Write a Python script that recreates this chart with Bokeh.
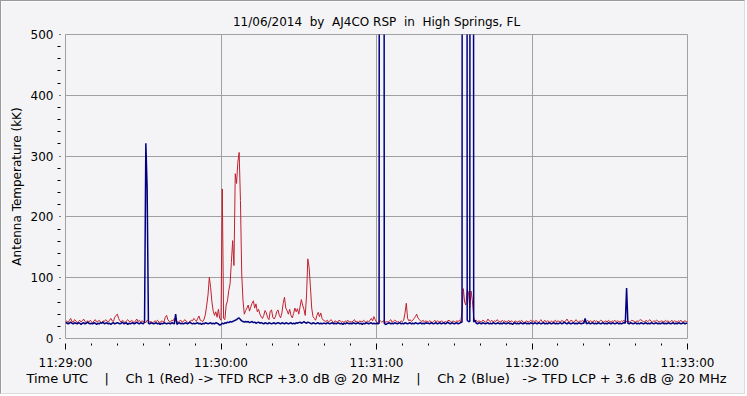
import numpy as np
from bokeh.plotting import figure
from bokeh.models import FixedTicker, Range1d, ColumnDataSource
from bokeh.embed import file_html
from bokeh.resources import INLINE

# ---- data (antenna temperature, kK), one sample every 0.5 s from 11:29:00 UTC ----
sample_step_s = 0.5

red_values = [
    27,29,26,30,33,28,27,31,29,26,28,30,27,29,32,28,26,29,27,30,
    28,26,29,31,27,28,30,27,26,29,28,31,29,27,30,33,29,28,35,38,
    40,33,29,27,30,28,26,29,31,28,27,30,28,26,29,32,28,30,27,29,
    28,27,26,30,29,27,28,26,27,29,28,30,27,26,29,28,27,35,38,31,
    28,27,30,29,33,31,28,26,29,30,27,28,31,29,27,26,28,30,29,33,
    31,28,33,37,30,29,28,32,40,55,72,101,84,60,45,38,44,35,48,33,
    30,246,33,31,55,62,79,90,125,161,120,271,255,290,306,227,106,62,40,46,
    50,55,45,52,58,62,50,57,44,48,40,36,33,38,46,42,34,31,45,47,
    35,32,36,44,47,38,34,42,58,68,50,46,40,48,38,34,41,50,44,49,
    40,52,64,55,48,38,70,131,117,85,50,36,33,30,38,43,36,42,33,30,
    29,28,30,27,29,31,28,26,29,28,27,30,29,27,28,26,29,28,30,27,
    28,27,29,31,27,28,26,29,28,27,30,28,26,29,27,30,33,29,36,31,
    27,26,28,29,27,28,30,26,28,27,29,31,27,28,30,29,27,28,26,29,
    28,30,42,58,33,29,31,28,30,33,36,40,34,31,29,28,30,27,29,28,
    27,29,28,26,28,30,27,29,28,27,29,28,26,28,27,29,30,28,27,29,
    28,27,29,28,30,27,45,82,60,55,80,76,50,78,62,35,28,30,27,29,
    28,27,30,29,27,28,32,29,28,30,27,29,28,31,29,28,27,30,28,29,
    27,28,30,27,29,28,26,29,28,27,29,28,30,27,26,28,29,27,28,30,
    28,29,27,30,28,26,29,31,27,28,30,27,29,28,26,29,27,28,30,27,
    29,28,27,30,28,27,29,32,28,27,30,29,27,28,31,28,27,29,28,30,
    27,29,28,30,27,29,28,27,30,28,29,27,28,30,29,27,28,29,27,30,
    28,27,29,28,30,27,29,28,27,29,28,30,27,28,29,27,28,30,29,28,
    27,29,28,30,31,29,28,27,30,28,29,31,28,27,29,28,30,29,27,28,
    29,28,27,30,28,29,27,28,30,27,29,28,27,29,28,30,27,28,29,28,
    28,
]

blue_values = [
    25,26,24,25,27,25,24,26,25,24,26,25,23,25,26,24,25,27,25,24,
    25,24,26,25,23,25,24,26,25,27,24,25,26,24,25,23,25,26,24,25,
    26,25,24,25,27,24,25,26,23,25,24,25,26,24,25,27,25,24,26,25,
    24,27,321,247,25,24,26,25,24,25,26,24,25,23,25,24,26,25,24,25,
    25,24,26,25,24,40,23,25,26,24,25,24,25,26,24,25,27,25,24,25,
    24,25,26,24,25,23,25,24,26,25,24,25,26,24,25,24,26,25,24,22,
    23,25,24,26,25,27,26,28,27,28,29,30,31,33,34,31,29,28,27,28,
    27,28,26,27,28,26,27,25,26,27,25,26,25,24,26,25,24,26,25,24,
    25,26,24,25,26,25,24,26,25,24,26,25,24,25,26,24,25,24,26,25,
    26,27,25,26,28,26,25,27,26,25,24,26,25,24,25,26,24,25,24,25,
    25,24,26,25,24,25,26,24,25,24,26,25,24,25,23,25,24,26,25,24,
    25,24,26,25,24,25,26,24,25,23,25,24,26,25,24,25,26,24,25,24,
    25,24,25,5000,5000,5000,25,23,24,25,26,24,25,24,26,25,24,25,26,24,
    25,24,26,25,24,25,26,24,25,24,26,25,24,25,26,24,25,24,26,25,
    25,24,26,25,24,25,26,24,25,26,24,25,26,24,25,27,25,24,26,25,
    24,25,26,24,25,26,27,5000,5000,5000,30,28,28,5000,5000,27,30,25,24,26,
    25,24,26,25,24,25,26,24,25,24,26,25,24,25,26,24,25,24,26,25,
    24,25,26,24,25,23,25,26,24,25,24,26,25,24,25,26,24,25,24,26,
    25,24,26,25,24,26,25,24,25,26,24,25,24,26,25,24,25,26,24,25,
    24,25,26,24,25,27,25,24,26,25,24,25,26,24,25,24,26,25,24,25,
    25,33,24,25,26,24,25,26,24,25,24,26,25,24,25,26,24,25,24,26,
    25,24,26,25,24,25,26,24,25,24,25,26,25,83,25,24,26,25,24,25,
    26,24,25,24,26,25,24,25,26,24,25,24,26,25,24,25,26,24,25,24,
    25,26,24,25,24,26,25,24,25,26,24,25,24,26,25,24,25,26,24,25,
    25,
]

x_major_ticks = [0, 60, 120, 180, 240]
x_tick_labels = ["11:29:00", "11:30:00", "11:31:00", "11:32:00", "11:33:00"]
y_major_ticks = [0, 100, 200, 300, 400, 500]

title_text = "11/06/2014\u00a0 by\u00a0 AJ4CO RSP\u00a0 in\u00a0 High Springs, FL"
x_label = ("Time UTC\u00a0\u00a0\u00a0 |\u00a0\u00a0\u00a0 Ch 1 (Red) -> TFD RCP +3.0 dB @ 20 MHz"
           "\u00a0\u00a0\u00a0 |\u00a0\u00a0\u00a0 Ch 2 (Blue)\u00a0\u00a0 -> TFD LCP + 3.6 dB @ 20 MHz")
y_label = "Antenna Temperature (kK)"

# ---- build ----
t = np.arange(len(red_values)) * sample_step_s
src = ColumnDataSource(dict(t=t, red=red_values, blue=blue_values))

BG = "#F4F4F6"
GRID = "#A0A0A0"
FONT = "DejaVu Sans"

p = figure(width=745, height=394, output_backend="svg", toolbar_location=None,
           x_range=Range1d(0, 240), y_range=Range1d(0, 500), title=title_text,
           min_border_left=64, min_border_right=59, min_border_top=33, min_border_bottom=57,
           styles={"border-top": "1px solid #9A9A9A", "border-left": "1px solid #9A9A9A",
                   "border-right": "1px solid #DCDCDC", "border-bottom": "1px solid #DCDCDC"})
p.background_fill_color = BG
p.border_fill_color = BG
p.outline_line_color = GRID
p.outline_line_width = 1

p.title.align = "center"
p.title.text_font = FONT
p.title.text_font_size = "12px"
p.title.text_font_style = "normal"
p.title.text_color = "black"
p.title.standoff = 11

p.line("t", "red", source=src, line_color="#C0202F", line_width=1)
p.line("t", "blue", source=src, line_color="#000080", line_width=1.5)

# x axis
p.xaxis.ticker = FixedTicker(ticks=x_major_ticks,
                             minor_ticks=[v for v in range(0, 241, 10) if v % 60 != 0])
p.xaxis.major_label_overrides = {v: s for v, s in zip(x_major_ticks, x_tick_labels)}
p.xaxis.axis_line_color = None
p.xaxis.major_tick_in = -5
p.xaxis.major_tick_out = 11
p.xaxis.minor_tick_in = -5
p.xaxis.minor_tick_out = 7
p.xaxis.major_tick_line_color = "black"
p.xaxis.minor_tick_line_color = "black"
p.xaxis.major_label_standoff = 6
p.xaxis.axis_label = x_label
p.xaxis.axis_label_standoff = -2

# y axis
p.yaxis.ticker = FixedTicker(ticks=y_major_ticks,
                             minor_ticks=[v for v in range(0, 501, 20) if v % 100 != 0])
p.yaxis.axis_line_color = None
p.yaxis.major_tick_in = -5
p.yaxis.major_tick_out = 6
p.yaxis.minor_tick_in = -5
p.yaxis.minor_tick_out = 8
p.yaxis.major_tick_line_color = "black"
p.yaxis.minor_tick_line_color = "black"
p.yaxis.major_label_standoff = 4
p.yaxis.axis_label = y_label
p.yaxis.axis_label_standoff = 4

for ax in (p.xaxis, p.yaxis):
    ax.major_label_text_font = FONT
    ax.major_label_text_font_size = "12px"
    ax.major_label_text_color = "black"
    ax.axis_label_text_font = FONT
    ax.axis_label_text_font_size = "12px"
    ax.axis_label_text_font_style = "normal"
    ax.axis_label_text_color = "black"
p.xaxis.axis_label_text_font_size = "13px"

p.xgrid.grid_line_color = GRID
p.ygrid.grid_line_color = GRID
p.grid.grid_line_width = 1

open("out.html", "w").write(file_html(p, INLINE))
